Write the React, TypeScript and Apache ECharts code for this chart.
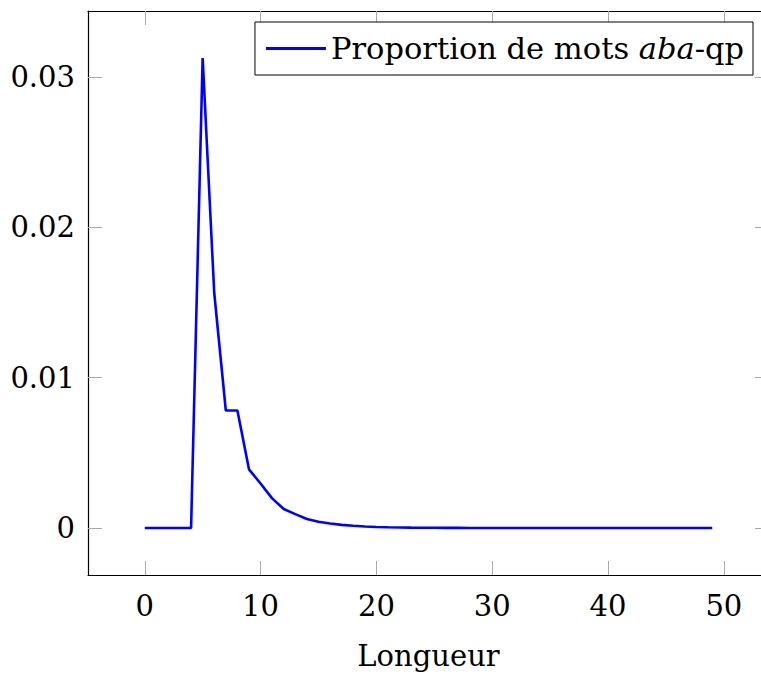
import React, { useEffect, useRef } from "react";
import * as echarts from "echarts";

const lengths = [
  0, 1, 2, 3, 4, 5, 6, 7, 8, 9, 10, 11, 12, 13, 14, 15, 16, 17, 18, 19, 20, 21, 22, 23, 24,
  25, 26, 27, 28, 29, 30, 31, 32, 33, 34, 35, 36, 37, 38, 39, 40, 41, 42, 43, 44, 45, 46, 47, 48, 49,
];
const proportions = [
  0, 0, 0, 0, 0, 0.03125, 0.015625, 0.0078125, 0.0078125, 0.0039, 0.00296, 0.00197, 0.00126,
  0.00092, 0.0006, 0.00042, 0.0003, 0.00021, 0.00015, 0.0001, 0.00007, 0.00005, 0.000035,
  0.000025, 0.000018, 0.000012, 0.000009, 0.000006, 0.000004, 0.000003, 0.000002, 0.0000015,
  0.000001, 0.0000007, 0.0000005, 0.0000003, 0.0000002, 0.0000001, 0.0000001, 0.00000005,
  0.00000003, 0.00000002, 0.00000001, 0.00000001, 0, 0, 0, 0, 0, 0,
];
const xTicks = [0, 10, 20, 30, 40, 50];
const yTicks = [0, 0.01, 0.02, 0.03];
const seriesName = "Proportion de mots aba-qp";

const FONT = "DejaVu Serif";
const FS = 29;
const LFS = 30.5;

export default function App() {
  const ref = useRef<HTMLDivElement>(null);
  useEffect(() => {
    if (!ref.current) return;
    const chart = echarts.init(ref.current, null, { renderer: "svg" });
    const data = lengths.map((x, i) => [x, proportions[i]]);
    const tickStyle = { show: true, inside: true, length: 14, lineStyle: { color: "#aaaaaa", width: 1 } };
    const axisLine = { show: true, onZero: false, lineStyle: { color: "#000", width: 1.2 } };
    const xMin = -4.9, xMax = 53.9, yMin = -0.003125, yMax = 0.034375;
    chart.setOption({
      animation: false,
      backgroundColor: "#fff",
      textStyle: { fontFamily: FONT },
      grid: { left: 88, top: 11, width: 681, height: 564, containLabel: false, outerBoundsMode: "none" },
      legend: {
        show: true,
        data: [seriesName],
        right: 8,
        top: 22,
        orient: "horizontal",
        icon: "rect",
        itemWidth: 60,
        itemHeight: 3,
        itemGap: 0,
        padding: [11, 9, 11, 11],
        borderColor: "#000",
        borderWidth: 1,
        backgroundColor: "#fff",
        formatter: () => "{n|Proportion de mots }{i|aba}{n|-qp}",
        textStyle: {
          fontFamily: FONT,
          fontSize: LFS,
          color: "#000",
          rich: {
            n: { fontFamily: FONT, fontSize: LFS, color: "#000" },
            i: { fontFamily: FONT, fontSize: LFS, color: "#000", fontStyle: "italic" },
          },
        },
      },
      xAxis: [
        {
          type: "value",
          min: xMin,
          max: xMax,
          position: "bottom",
          axisLine,
          axisTick: { ...tickStyle, customValues: xTicks },
          axisLabel: {
            customValues: xTicks,
            margin: 16,
            fontSize: FS,
            fontFamily: FONT,
            color: "#000",
          },
          splitLine: { show: false },
          name: "Longueur",
          nameLocation: "middle",
          nameGap: 66,
          nameTextStyle: { fontSize: FS, fontFamily: FONT, color: "#000" },
        },
        {
          type: "value",
          min: xMin,
          max: xMax,
          position: "top",
          axisLine,
          axisTick: { ...tickStyle, customValues: xTicks },
          axisLabel: { show: false, customValues: xTicks },
          splitLine: { show: false },
        },
      ],
      yAxis: [
        {
          type: "value",
          min: yMin,
          max: yMax,
          position: "left",
          axisLine,
          axisTick: { ...tickStyle, customValues: yTicks },
          axisLabel: {
            customValues: yTicks,
            margin: 13,
            fontSize: FS,
            fontFamily: FONT,
            color: "#000",
            formatter: (v: number) => (v === 0 ? "0" : v.toFixed(2)),
          },
          splitLine: { show: false },
        },
        {
          type: "value",
          min: yMin,
          max: yMax,
          position: "right",
          axisLine,
          axisTick: { ...tickStyle, customValues: yTicks },
          axisLabel: { show: false, customValues: yTicks },
          splitLine: { show: false },
        },
      ],
      series: [
        {
          name: seriesName,
          type: "line",
          data,
          showSymbol: false,
          symbol: "none",
          lineStyle: { color: "#0000ff", width: 2.6 },
          itemStyle: { color: "#0000ff" },
        },
      ],
    });
    return () => chart.dispose();
  }, []);
  return (
    <div
      ref={ref}
      style={{ position: "fixed", left: 0, top: 0, width: 761, height: 675, background: "#fff" }}
    />
  );
}
